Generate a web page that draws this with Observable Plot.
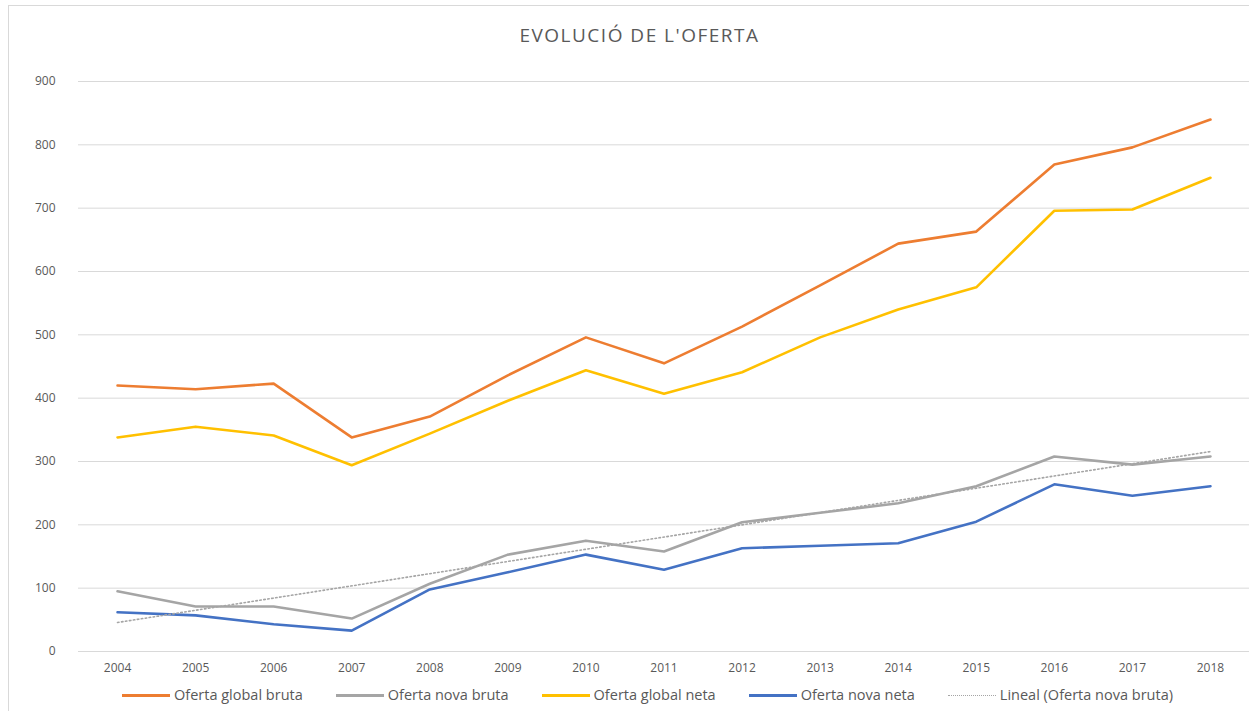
<!DOCTYPE html>
<html>
<head>
<meta charset="utf-8">
<script src="https://cdn.jsdelivr.net/npm/d3@7"></script>
<script src="https://cdn.jsdelivr.net/npm/@observablehq/plot@0.6"></script>
<style>
  html, body { margin: 0; padding: 0; background: #fff; }
  body { width: 1249px; height: 711px; position: relative; overflow: hidden; font-family: "Open Sans", sans-serif; }
  #frame { position: absolute; left: 8px; top: 5px; width: 1260px; height: 720px; border-left: 1px solid #d9d9d9; border-top: 1px solid #d9d9d9; }
  #title { position: absolute; left: 0; width: 1279px; top: 22px; text-align: center; font-size: 19px; color: #595959; letter-spacing: 1.5px; }
  #chart { position: absolute; left: 0; top: 61px; }
  #legend { position: absolute; left: 122px; top: 685px; height: 20px; display: flex; gap: 33px; font-size: 14.5px; line-height: 20px; color: #595959; white-space: nowrap; }
  .item { display: flex; align-items: center; }
  .sw { width: 48px; height: 0; margin-right: 4px; }
</style>
</head>
<body>
<div id="frame"></div>
<div id="title">EVOLUCIÓ DE L'OFERTA</div>
<div id="chart"></div>
<div id="legend"></div>
<script>
const years = [2004, 2005, 2006, 2007, 2008, 2009, 2010, 2011, 2012, 2013, 2014, 2015, 2016, 2017, 2018];
const globalBruta = [420, 414, 423, 338, 371, 436, 496, 455, 513, 578, 644, 663, 769, 796, 840];
const novaBruta   = [95, 71, 71, 52, 107, 153, 175, 158, 204, 219, 234, 261, 308, 295, 308];
const globalNeta  = [338, 355, 341, 294, 344, 396, 444, 407, 441, 496, 540, 575, 696, 698, 748];
const novaNeta    = [62, 57, 43, 33, 98, 125, 153, 129, 163, 167, 171, 205, 264, 246, 261];
const yTicks = [0, 100, 200, 300, 400, 500, 600, 700, 800, 900];

const seriesNames = ["Oferta global bruta", "Oferta nova bruta", "Oferta global neta", "Oferta nova neta"];
const seriesColors = ["#ED7D31", "#A5A5A5", "#FFC000", "#4472C4"];
const seriesValues = [globalBruta, novaBruta, globalNeta, novaNeta];
const trendName = "Lineal (Oferta nova bruta)";

const rows = [];
seriesNames.forEach((name, s) => {
  years.forEach((yr, i) => rows.push({series: name, year: yr, value: seriesValues[s][i]}));
});
const novaRows = rows.filter(d => d.series === "Oferta nova bruta");

const chart = Plot.plot({
  width: 1249,
  height: 620,
  marginLeft: 78,
  marginRight: 0,
  marginTop: 20,
  marginBottom: 30,
  style: { fontFamily: "Open Sans, sans-serif", fontSize: "12px", color: "#595959", background: "transparent" },
  x: { type: "linear", domain: [2003.5, 2018.5], ticks: years, tickFormat: d => String(d), tickSize: 0, tickPadding: 12, label: null },
  y: { domain: [0, 900], ticks: yTicks, tickSize: 0, tickPadding: 23, label: null },
  color: { domain: seriesNames, range: seriesColors },
  marks: [
    Plot.ruleY(yTicks, { stroke: "#d9d9d9", strokeWidth: 1 }),
    Plot.lineY(rows, { x: "year", y: "value", z: "series", stroke: "series", strokeWidth: 2.6, strokeLinejoin: "round" }),
    Plot.linearRegressionY(novaRows, { x: "year", y: "value", stroke: "#A5A5A5", strokeWidth: 1.6, strokeDasharray: "1.5,2.5", ci: 0 })
  ]
});
document.getElementById("chart").appendChild(chart);

const legend = document.getElementById("legend");
seriesNames.forEach((name, i) => {
  const it = document.createElement("div");
  it.className = "item";
  it.innerHTML = `<span class="sw" style="border-top:3px solid ${seriesColors[i]}"></span><span>${name}</span>`;
  legend.appendChild(it);
});
const tr = document.createElement("div");
tr.className = "item";
tr.innerHTML = `<span class="sw" style="border-top:1.5px dotted #A5A5A5"></span><span>${trendName}</span>`;
legend.appendChild(tr);
</script>
</body>
</html>
